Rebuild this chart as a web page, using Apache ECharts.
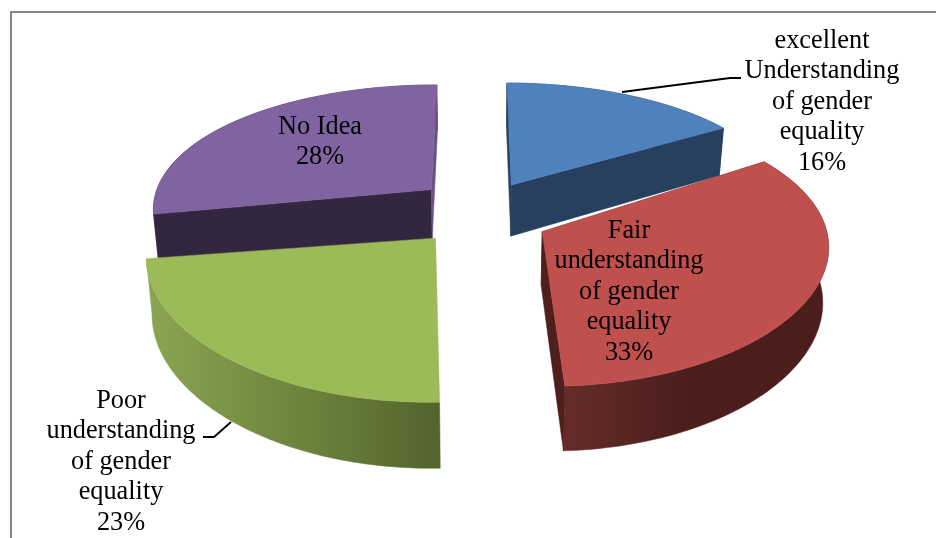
<!DOCTYPE html>
<html><head><meta charset="utf-8">
<style>html,body{margin:0;padding:0;background:#fff}#c{width:936px;height:538px}</style>
<script src="https://cdn.jsdelivr.net/npm/echarts@6/dist/echarts.min.js"></script>
</head><body><div id="c"></div>
<script>
const categories = ['excellent\nUnderstanding\nof gender\nequality', 'Fair\nunderstanding\nof gender\nequality', 'Poor\nunderstanding\nof gender\nequality', 'No Idea'];
const values = [16, 33, 23, 28];
const topColors = ['#4f81bd', '#c0504d', '#9bbb59', '#8064a2'];
const wallColors = [['#28405f', '#28405f', '#28405f'], ['#652c29', '#4b1e1c', '#4b1e1c'], ['#8aa552', '#6f8a40', '#53632c'], ['#35263f', '#35263f', '#35263f']];
const sideColors = [['#28405f', '#28405f'], ['#4f1f1d', '#4f1f1d'], [null, null], ['#35263f', '#6a5286']];
const labelPos = [[822, 102], [629, 292], [121, 462], [320, 142]];
const leaders = [[[622, 92], [730, 78], [741, 78]], null, [[203, 437], [214, 437], [231, 422]], null];
// small per-slice fitting of the projected pieces: [dx, dy, rotation]
const rimNudge = [[-2, 0, -0.5], [3, 0, 0], [-3, 1, 1], [0, -3, -1]];
const apexNudge = [[1, -2], [4, 6], [-4, 2], [0, -4]];

const V = {cx: 480, cy: 212, R: 280, k: 0.46, px: 0.13, py: 0.166, pz: 0.017, e: 0.23, depth: 53, rot: 1};
const total = values.reduce((a, b) => a + b, 0);
const rad = d => d * Math.PI / 180;
function project(X, Y, z) {
  const sx = 1 / (1 - V.px * Y), sy = 1 / (1 - V.py * Y);
  return [V.cx + X * V.R * sx * (1 - V.pz * z), V.cy + Y * V.R * V.k * sy + z * V.depth * sy];
}
function sliceAngles(i) {
  let a = 0;
  for (let j = 0; j < i; j++) a += values[j];
  return [a / total * 360, (a + values[i]) / total * 360];
}
function polygon(points, fill, z2) {
  return {type: 'polygon', shape: {points}, style: {fill, stroke: fill, lineWidth: 0.5}, z2};
}
function renderItem(params, api) {
  const i = params.dataIndex;
  const [a0, a1] = sliceAngles(i);
  const mid = rad((a0 + a1) / 2);
  const ox = V.e * Math.sin(mid), oy = -V.e * Math.cos(mid);
  const base = Math.round((1 - Math.cos(mid)) * 100);
  const [ndx, ndy, nrot] = rimNudge[i];
  const rim = z => {
    const pts = [];
    const n = 90;
    for (let t = 0; t <= n; t++) {
      const a = rad(a0 + (a1 - a0) * t / n + V.rot + nrot);
      const p = project(ox + Math.sin(a), oy - Math.cos(a), z);
      pts.push([p[0] + ndx, p[1] + ndy]);
    }
    return pts;
  };
  const top = rim(0), bottom = rim(1);
  const ap = z => {
    const p = project(ox, oy, z);
    return [p[0] + apexNudge[i][0], p[1] + apexNudge[i][1]];
  };
  const apexT = ap(0), apexB = ap(1);
  const wallFill = new echarts.graphic.LinearGradient(0, 0, 1, 0, [
    {offset: 0, color: wallColors[i][0]}, {offset: 0.45, color: wallColors[i][1]}, {offset: 1, color: wallColors[i][2]}]);
  const children = [polygon(top.concat(bottom.slice().reverse()), wallFill, base)];
  if (sideColors[i][0]) children.push(polygon([apexT, top[0], bottom[0], apexB], sideColors[i][0], base + 1));
  if (sideColors[i][1]) children.push(polygon([apexT, top[top.length - 1], bottom[bottom.length - 1], apexB], sideColors[i][1], base + 2));
  children.push(polygon([apexT].concat(top), topColors[i], base + 3));
  if (leaders[i]) children.push({type: 'polyline', shape: {points: leaders[i]},
    style: {stroke: '#000', lineWidth: 1.8, fill: null}, z2: 900});
  children.push({type: 'text', x: labelPos[i][0], y: labelPos[i][1], z2: 1000,
    style: {text: categories[i] + '\n' + api.value(0) + '%', fill: '#000',
      font: '26.3px "Liberation Serif"', lineHeight: 30.5, align: 'center', verticalAlign: 'middle'}});
  return {type: 'group', children};
}
const chart = echarts.init(document.getElementById('c'), null, {renderer: 'canvas'});
chart.setOption({
  animation: false,
  backgroundColor: '#fff',
  graphic: [{type: 'polyline', shape: {points: [[11, 538], [11, 12], [936, 12]]},
    style: {stroke: '#868686', lineWidth: 2, fill: null}}],
  series: [{type: 'custom', coordinateSystem: 'none', renderItem, data: values.map(v => [v])}]
});
</script></body></html>
